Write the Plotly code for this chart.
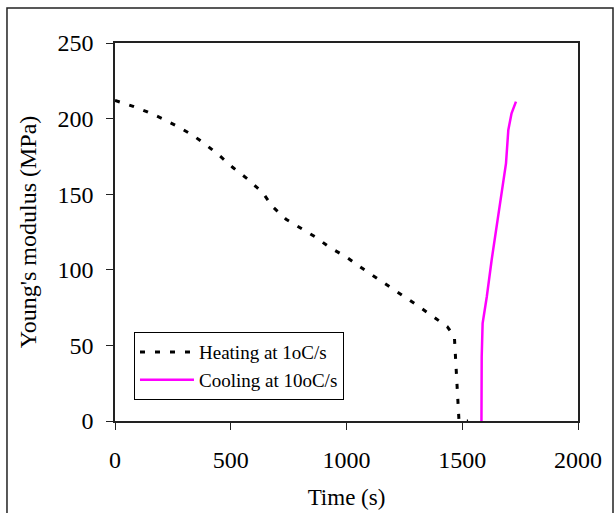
import plotly.graph_objects as go

# Heating at 1oC/s (time in s, Young's modulus in MPa)
heat_t = [0, 75, 137, 202, 267, 334, 389, 450, 508, 573, 638, 681, 739, 803, 868,
          929, 997, 1058, 1123, 1188, 1245, 1310, 1375, 1435, 1466, 1475, 1483, 1486, 1525]
heat_E = [212, 208.3, 204.6, 200.2, 195.1, 189.2, 183.2, 175.7, 167.8, 160, 151, 141.7,
          133.4, 127.6, 121.5, 114.6, 108.7, 102, 95.4, 88.8, 82.7, 76, 69, 62.4, 55.8,
          30, 5.3, 0, 0]

# Cooling at 10oC/s
cool_t = [1583, 1584, 1588, 1606, 1627, 1649, 1670, 1689, 1699, 1713, 1732]
cool_E = [0, 42.5, 64.6, 82.2, 106.5, 128.5, 148.3, 170.4, 192.5, 203.5, 211.2]

x_ticks = [0, 500, 1000, 1500, 2000]
y_ticks = [0, 50, 100, 150, 200, 250]

FONT = "Liberation Serif, Times New Roman, serif"

fig = go.Figure()
fig.add_trace(go.Scatter(x=heat_t, y=heat_E, mode="lines", name="Heating at 1oC/s",
                         line=dict(color="black", width=3, dash="5px,10px")))
fig.add_trace(go.Scatter(x=cool_t, y=cool_E, mode="lines", name="Cooling at 10oC/s",
                         line=dict(color="#FF00FF", width=2.5)))

axis_common = dict(showgrid=False, zeroline=False, showline=True, linecolor="#222",
                   linewidth=1.5, mirror=True, ticks="outside", ticklen=7, tickwidth=1,
                   tickcolor="#222", automargin=False,
                   tickfont=dict(family=FONT, size=24, color="black"))

fig.update_xaxes(range=[0, 2000], tickvals=x_ticks, ticklabelstandoff=9,
                 title=dict(text="Time (s)", font=dict(family=FONT, size=23, color="black"),
                            standoff=17),
                 **axis_common)
fig.update_yaxes(range=[0, 250], tickvals=y_ticks, ticklabelstandoff=8,
                 title=dict(text="Young's modulus (MPa)",
                            font=dict(family=FONT, size=24, color="black"), standoff=14),
                 **axis_common)

fig.update_layout(
    width=615, height=513,
    margin=dict(l=115, r=37, t=43, b=92),
    plot_bgcolor="white", paper_bgcolor="white",
    showlegend=True,
    legend=dict(x=0.041, y=0.235, xanchor="left", yanchor="top",
                bordercolor="black", borderwidth=1, bgcolor="white",
                font=dict(family=FONT, size=19, color="black"),
                itemwidth=54, tracegroupgap=0),
    shapes=[dict(type="rect", xref="paper", yref="paper",
                 x0=-0.2333, x1=1.0756, y0=-0.26, y1=1.0926,
                 line=dict(color="#222", width=1.5), fillcolor="rgba(0,0,0,0)",
                 layer="below")],
)

fig.write_html("out.html")
